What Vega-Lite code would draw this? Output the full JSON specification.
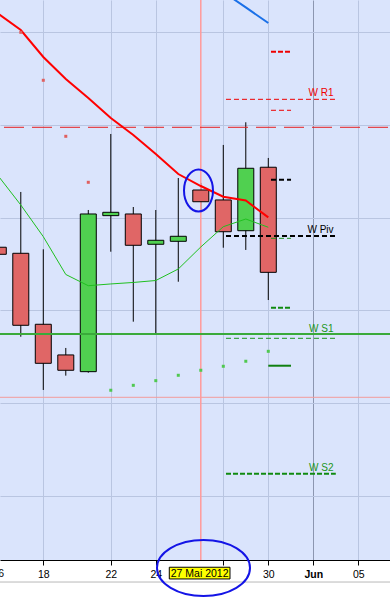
{
  "$schema": "https://vega.github.io/schema/vega-lite/v6.json",
  "width": 390,
  "height": 560,
  "autosize": {"type": "none"},
  "padding": {"left": 0, "top": 0, "right": 0, "bottom": 37},
  "background": "white",
  "config": {
    "view": {"fill": "#dae4fc", "stroke": null},
    "font": "Liberation Sans",
    "scale": {"continuousPadding": 0}
  },
  "datasets": {
    "candles": [
      {"i": 0, "open": 1.27680, "high": 1.27758, "low": 1.27521, "close": 1.27604},
      {"i": 1, "open": 1.27615, "high": 1.28275, "low": 1.26717, "close": 1.26840},
      {"i": 2, "open": 1.26851, "high": 1.27658, "low": 1.26144, "close": 1.26431},
      {"i": 3, "open": 1.26521, "high": 1.26596, "low": 1.26298, "close": 1.26356},
      {"i": 4, "open": 1.26341, "high": 1.28081, "low": 1.26330, "close": 1.28038},
      {"i": 5, "open": 1.28020, "high": 1.28899, "low": 1.27632, "close": 1.28056},
      {"i": 6, "open": 1.28038, "high": 1.28113, "low": 1.26879, "close": 1.27701},
      {"i": 7, "open": 1.27712, "high": 1.28081, "low": 1.26754, "close": 1.27755},
      {"i": 8, "open": 1.27744, "high": 1.28425, "low": 1.27309, "close": 1.27798},
      {"i": 9, "open": 1.28296, "high": 1.28372, "low": 1.28070, "close": 1.28170},
      {"i": 10, "open": 1.28189, "high": 1.28781, "low": 1.27675, "close": 1.27847},
      {"i": 11, "open": 1.27858, "high": 1.29025, "low": 1.27651, "close": 1.28530},
      {"i": 12, "open": 1.28541, "high": 1.28641, "low": 1.27112, "close": 1.27410}
    ],
    "ma": [
      {"i": 0, "red": 1.30192, "green": 1.28447},
      {"i": 1, "red": 1.30018, "green": 1.28135},
      {"i": 2, "red": 1.29728, "green": 1.27794},
      {"i": 3, "red": 1.29491, "green": 1.27387},
      {"i": 4, "red": 1.29286, "green": 1.27266},
      {"i": 5, "red": 1.29071, "green": 1.27285},
      {"i": 6, "red": 1.28888, "green": 1.27301},
      {"i": 7, "red": 1.28684, "green": 1.27322},
      {"i": 8, "red": 1.28468, "green": 1.27446},
      {"i": 9, "red": 1.28339, "green": 1.27683},
      {"i": 10, "red": 1.28224, "green": 1.27901},
      {"i": 11, "red": 1.28183, "green": 1.27984},
      {"i": 12, "red": 1.28002, "green": 1.27895}
    ],
    "blue": [
      {"i": 10, "price": 1.30427},
      {"i": 11, "price": 1.30261},
      {"i": 12, "price": 1.30094}
    ],
    "dots": [
      {"i": 1, "price": 1.29993, "side": "up"},
      {"i": 2, "price": 1.29477, "side": "up"},
      {"i": 3, "price": 1.28874, "side": "up"},
      {"i": 4, "price": 1.28379, "side": "up"},
      {"i": 5, "price": 1.26141, "side": "down"},
      {"i": 6, "price": 1.26194, "side": "down"},
      {"i": 7, "price": 1.26244, "side": "down"},
      {"i": 8, "price": 1.26302, "side": "down"},
      {"i": 9, "price": 1.26356, "side": "down"},
      {"i": 10, "price": 1.26399, "side": "down"},
      {"i": 11, "price": 1.26453, "side": "down"},
      {"i": 12, "price": 1.26560, "side": "down"}
    ],
    "levels": [
      {"style": "A", "x1": 12.12, "x2": 13.01, "price": 1.29785},
      {"style": "B", "x1": 12.12, "x2": 13.01, "price": 1.29154},
      {"style": "B", "x1": 10.12, "x2": 15.0, "price": 1.29272},
      {"style": "C", "x1": 12.12, "x2": 13.01, "price": 1.28407},
      {"style": "C", "x1": 10.12, "x2": 15.0, "price": 1.27801},
      {"style": "D", "x1": 12.12, "x2": 13.01, "price": 1.27776},
      {"style": "D", "x1": 10.12, "x2": 15.0, "price": 1.26700},
      {"style": "E", "x1": 12.12, "x2": 13.01, "price": 1.27030},
      {"style": "E", "x1": 10.12, "x2": 15.0, "price": 1.25243},
      {"style": "F", "x1": 12.0, "x2": 13.01, "price": 1.26405}
    ],
    "hlines": [
      {"style": "reddash", "price": 1.28971},
      {"style": "greensolid", "price": 1.26747},
      {"style": "cross", "price": 1.26065},
      {"style": "bottom", "price": 1.24077}
    ],
    "vcross": [{"i": 9}],
    "wlabels": [
      {"label": "W R1", "i": 14.9, "price": 1.29313},
      {"label": "W Piv", "i": 14.9, "price": 1.27836},
      {"label": "W S1", "i": 14.9, "price": 1.26763},
      {"label": "W S2", "i": 14.9, "price": 1.25275}
    ],
    "circles": [
      {"name": "candle", "i": 8.898, "price": 1.28291},
      {"name": "date", "i": 9.12, "price": 1.24228}
    ],
    "datebox": [
      {"i1": 7.6, "i2": 10.298, "p1": 1.24236, "p2": 1.24110, "ic": 8.949, "pt": 1.24128, "label": "27 Mai 2012"}
    ],
    "firstlabel": [
      {"i": 0, "price": 1.24128, "label": "16"}
    ]
  },
  "layer": [
    {
      "data": {"name": "candles"},
      "mark": {"type": "rule", "color": "black", "strokeWidth": 1},
      "encoding": {
        "x": {
          "field": "i", "type": "quantitative",
          "scale": {"domain": [0.076, 17.409], "nice": false, "zero": false, "padding": 0},
          "axis": {
            "values": [2, 5, 7, 10, 12, 14, 16],
            "labelExpr": "datum.value == 2 ? '18' : datum.value == 5 ? '22' : datum.value == 7 ? '24' : datum.value == 12 ? '30' : datum.value == 14 ? 'Jun' : datum.value == 16 ? '05' : ''",
            "grid": true,
            "gridColor": {"condition": {"test": "datum.value == 14", "value": "#8c96b0"}, "value": "#b9c5e1"},
            "gridWidth": 1,
            "domainColor": "black",
            "domainWidth": 1,
            "tickColor": "black",
            "tickSize": 5,
            "labelFontSize": 10.5,
            "labelFont": "Liberation Sans",
            "labelColor": "black",
            "labelPadding": 4,
            "labelFlush": false,
            "labelOverlap": false,
            "labelFontWeight": {"condition": {"test": "datum.value == 14", "value": "bold"}, "value": "normal"},
            "title": null
          }
        },
        "y": {
          "field": "low", "type": "quantitative",
          "scale": {"domain": [1.24314, 1.30341], "nice": false, "zero": false, "padding": 0},
          "axis": {
            "values": [1.25, 1.26, 1.27, 1.28, 1.29, 1.30],
            "grid": true,
            "gridColor": "#b9c5e1",
            "labels": false,
            "ticks": false,
            "domain": false,
            "title": null
          }
        },
        "y2": {"field": "high"}
      }
    },
    {
      "data": {"name": "hlines"},
      "transform": [{"filter": "datum.style == 'cross'"}],
      "mark": {"type": "rule", "color": "#f29b9b", "strokeWidth": 1},
      "encoding": {"y": {"field": "price", "type": "quantitative"}}
    },
    {
      "data": {"name": "vcross"},
      "mark": {"type": "rule", "color": "#ff9a9a", "strokeWidth": 1.5},
      "encoding": {"x": {"field": "i", "type": "quantitative"}}
    },
    {
      "data": {"name": "candles"},
      "mark": {"type": "bar", "size": 16, "stroke": "black", "strokeWidth": 1},
      "encoding": {
        "x": {"field": "i", "type": "quantitative"},
        "y": {"field": "open", "type": "quantitative"},
        "y2": {"field": "close"},
        "fill": {"condition": {"test": "datum.close < datum.open", "value": "#e06666"}, "value": "#50d050"}
      }
    },
    {
      "data": {"name": "hlines"},
      "transform": [{"filter": "datum.style == 'reddash'"}],
      "mark": {"type": "rule", "color": "#e61e1e", "strokeWidth": 1, "strokeDash": [20, 8], "strokeDashOffset": 26},
      "encoding": {"y": {"field": "price", "type": "quantitative"}}
    },
    {
      "data": {"name": "hlines"},
      "transform": [{"filter": "datum.style == 'greensolid'"}],
      "mark": {"type": "rule", "color": "#3aaa3a", "strokeWidth": 2},
      "encoding": {"y": {"field": "price", "type": "quantitative"}}
    },
    {
      "data": {"name": "levels"},
      "transform": [{"filter": "datum.style == 'A'"}],
      "mark": {"type": "rule", "color": "#ee0000", "strokeWidth": 2, "strokeDash": [5, 2]},
      "encoding": {"x": {"field": "x1", "type": "quantitative"}, "x2": {"field": "x2"}, "y": {"field": "price", "type": "quantitative"}}
    },
    {
      "data": {"name": "levels"},
      "transform": [{"filter": "datum.style == 'B'"}],
      "mark": {"type": "rule", "color": "#ee0000", "strokeWidth": 1, "strokeDash": [5, 3]},
      "encoding": {"x": {"field": "x1", "type": "quantitative"}, "x2": {"field": "x2"}, "y": {"field": "price", "type": "quantitative"}}
    },
    {
      "data": {"name": "levels"},
      "transform": [{"filter": "datum.style == 'C'"}],
      "mark": {"type": "rule", "color": "black", "strokeWidth": 2, "strokeDash": [5, 3]},
      "encoding": {"x": {"field": "x1", "type": "quantitative"}, "x2": {"field": "x2"}, "y": {"field": "price", "type": "quantitative"}}
    },
    {
      "data": {"name": "levels"},
      "transform": [{"filter": "datum.style == 'D'"}],
      "mark": {"type": "rule", "color": "#1e961e", "strokeWidth": 1, "strokeDash": [5, 3]},
      "encoding": {"x": {"field": "x1", "type": "quantitative"}, "x2": {"field": "x2"}, "y": {"field": "price", "type": "quantitative"}}
    },
    {
      "data": {"name": "levels"},
      "transform": [{"filter": "datum.style == 'E'"}],
      "mark": {"type": "rule", "color": "#108a10", "strokeWidth": 2, "strokeDash": [5, 2]},
      "encoding": {"x": {"field": "x1", "type": "quantitative"}, "x2": {"field": "x2"}, "y": {"field": "price", "type": "quantitative"}}
    },
    {
      "data": {"name": "levels"},
      "transform": [{"filter": "datum.style == 'F'"}],
      "mark": {"type": "rule", "color": "#108010", "strokeWidth": 2},
      "encoding": {"x": {"field": "x1", "type": "quantitative"}, "x2": {"field": "x2"}, "y": {"field": "price", "type": "quantitative"}}
    },
    {
      "data": {"name": "ma"},
      "mark": {"type": "line", "color": "#20c020", "strokeWidth": 1},
      "encoding": {"x": {"field": "i", "type": "quantitative"}, "y": {"field": "green", "type": "quantitative"}}
    },
    {
      "data": {"name": "ma"},
      "mark": {"type": "line", "color": "#ff0000", "strokeWidth": 2},
      "encoding": {"x": {"field": "i", "type": "quantitative"}, "y": {"field": "red", "type": "quantitative"}}
    },
    {
      "data": {"name": "blue"},
      "mark": {"type": "line", "color": "#1a70e8", "strokeWidth": 2},
      "encoding": {"x": {"field": "i", "type": "quantitative"}, "y": {"field": "price", "type": "quantitative"}}
    },
    {
      "data": {"name": "dots"},
      "mark": {"type": "point", "shape": "square", "filled": true, "size": 9, "opacity": 1},
      "encoding": {
        "x": {"field": "i", "type": "quantitative"},
        "y": {"field": "price", "type": "quantitative"},
        "fill": {"condition": {"test": "datum.side == 'up'", "value": "#e06060"}, "value": "#50c850"}
      }
    },
    {
      "data": {"name": "wlabels"},
      "mark": {"type": "text", "align": "right", "baseline": "alphabetic", "fontSize": 10, "font": "Liberation Sans"},
      "encoding": {
        "x": {"field": "i", "type": "quantitative"},
        "y": {"field": "price", "type": "quantitative"},
        "text": {"field": "label"},
        "color": {"condition": [{"test": "datum.label == 'W R1'", "value": "#f00000"}, {"test": "datum.label == 'W Piv'", "value": "black"}], "value": "#1a961a"}
      }
    },
    {
      "data": {"name": "circles"},
      "transform": [{"filter": "datum.name == 'candle'"}],
      "mark": {"type": "point", "filled": false, "opacity": 1, "stroke": "#1414e6", "strokeWidth": 2, "size": 1764,
        "shape": "M0.69,0C0.69,0.552,0.381,1,0,1C-0.381,1,-0.69,0.552,-0.69,0C-0.69,-0.552,-0.381,-1,0,-1C0.381,-1,0.69,-0.552,0.69,0Z"},
      "encoding": {"x": {"field": "i", "type": "quantitative"}, "y": {"field": "price", "type": "quantitative"}}
    },
    {
      "data": {"name": "hlines"},
      "transform": [{"filter": "datum.style == 'bottom'"}],
      "mark": {"type": "rule", "color": "#b8b8b8", "strokeWidth": 1, "clip": false},
      "encoding": {"y": {"field": "price", "type": "quantitative"}}
    },
    {
      "data": {"name": "datebox"},
      "mark": {"type": "rect", "fill": "#ffff00", "stroke": "black", "strokeWidth": 1, "clip": false},
      "encoding": {
        "x": {"field": "i1", "type": "quantitative"},
        "x2": {"field": "i2"},
        "y": {"field": "p1", "type": "quantitative"},
        "y2": {"field": "p2"}
      }
    },
    {
      "data": {"name": "datebox"},
      "mark": {"type": "text", "align": "center", "baseline": "alphabetic", "fontSize": 10.5, "font": "Liberation Sans", "color": "black", "clip": false},
      "encoding": {
        "x": {"field": "ic", "type": "quantitative"},
        "y": {"field": "pt", "type": "quantitative"},
        "text": {"field": "label"}
      }
    },
    {
      "data": {"name": "firstlabel"},
      "mark": {"type": "text", "align": "center", "baseline": "alphabetic", "fontSize": 10.5, "font": "Liberation Sans", "color": "black", "clip": false},
      "encoding": {
        "x": {"field": "i", "type": "quantitative"},
        "y": {"field": "price", "type": "quantitative"},
        "text": {"field": "label"}
      }
    },
    {
      "data": {"name": "circles"},
      "transform": [{"filter": "datum.name == 'date'"}],
      "mark": {"type": "point", "filled": false, "opacity": 1, "stroke": "#1414e6", "strokeWidth": 2, "size": 8649, "clip": false,
        "shape": "M1,0C1,0.3325,0.552,0.602,0,0.602C-0.552,0.602,-1,0.3325,-1,0C-1,-0.3325,-0.552,-0.602,0,-0.602C0.552,-0.602,1,-0.3325,1,0Z"},
      "encoding": {"x": {"field": "i", "type": "quantitative"}, "y": {"field": "price", "type": "quantitative"}}
    }
  ]
}
